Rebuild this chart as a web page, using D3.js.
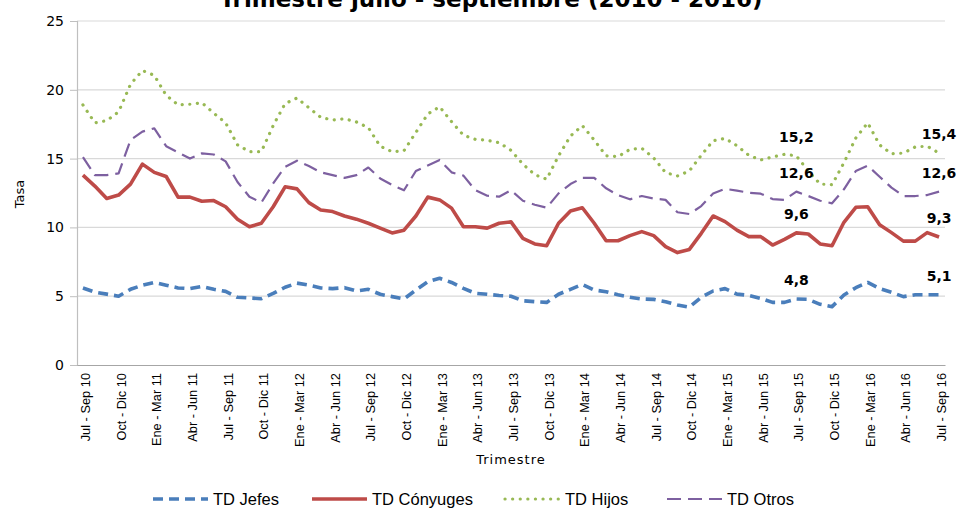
<!DOCTYPE html>
<html>
<head>
<meta charset="utf-8">
<script src="https://cdn.jsdelivr.net/npm/d3@7"></script>
<style>
  body { margin: 0; background: #fff; }
  svg { display: block; }
</style>
</head>
<body>
<svg id="chart" width="959" height="508"></svg>
<script>
// rolling quarters, monthly, Jul-Sep 2010 .. Jul-Sep 2016
var meses = ["Ene","Feb","Mar","Abr","May","Jun","Jul","Ago","Sep","Oct","Nov","Dic"];
var categories = [];
for (var i = 0; i < 73; i++) {
  var m = (6 + i) % 12;
  var yEnd = 10 + Math.floor((6 + i + 2) / 12);
  categories.push(meses[m] + " - " + meses[(m + 2) % 12] + " " + yEnd);
}
var tickLabels = categories.filter(function(d, i){ return i % 3 === 0; });

var jefes = [5.6,5.3,5.15,5.0,5.5,5.8,6.0,5.8,5.6,5.55,5.7,5.5,5.35,4.92,4.87,4.82,5.2,5.65,5.95,5.8,
  5.6,5.55,5.62,5.38,5.5,5.14,4.97,4.8,5.45,6.05,6.3,6.0,5.57,5.21,5.14,5.05,5.0,4.67,4.6,4.55,
  5.14,5.5,5.85,5.45,5.33,5.1,4.92,4.8,4.77,4.6,4.36,4.2,4.92,5.38,5.55,5.15,5.06,4.84,4.55,4.55,
  4.8,4.77,4.41,4.24,5.09,5.62,6.0,5.55,5.28,4.97,5.1,5.1,5.1];
var conyuges = [13.8,13.0,12.1,12.35,13.15,14.6,14.0,13.7,12.2,12.2,11.9,11.95,11.5,10.6,10.05,10.3,11.5,12.95,12.8,11.8,
  11.26,11.15,10.83,10.6,10.3,9.95,9.6,9.8,10.83,12.2,12.0,11.4,10.05,10.05,9.95,10.3,10.4,9.2,8.8,8.67,
  10.3,11.2,11.43,10.3,9.03,9.03,9.4,9.69,9.4,8.6,8.17,8.4,9.57,10.83,10.42,9.8,9.33,9.33,8.72,9.13,
  9.6,9.52,8.8,8.67,10.37,11.46,11.5,10.2,9.62,9.0,9.0,9.62,9.3];
var hijos = [18.9,17.6,17.76,18.4,20.4,21.4,21.05,19.6,18.9,18.95,19.06,18.3,17.6,16.0,15.5,15.5,17.4,19.0,19.4,18.7,
  18.0,17.8,17.9,17.66,17.25,15.9,15.5,15.57,16.9,18.24,18.77,17.68,16.7,16.4,16.33,16.16,15.6,14.6,13.83,13.5,
  15.2,16.64,17.4,16.35,15.2,15.14,15.67,15.75,15.05,13.98,13.74,14.1,15.24,16.3,16.47,15.94,15.24,14.9,15.12,15.31,
  15.2,14.1,13.15,13.1,14.7,16.5,17.6,16.0,15.35,15.4,15.85,15.9,15.4];
var otros = [15.1,13.8,13.8,13.93,16.35,16.96,17.2,15.9,15.45,15.0,15.38,15.3,14.8,13.3,12.23,11.8,13.2,14.4,14.85,14.46,
  14.0,13.8,13.6,13.8,14.35,13.56,13.08,12.7,14.1,14.5,14.9,14.0,13.76,12.7,12.3,12.23,12.7,11.94,11.65,11.43,
  12.47,13.15,13.6,13.6,12.84,12.35,12.04,12.28,12.1,12.0,11.1,10.97,11.55,12.47,12.8,12.67,12.52,12.45,12.06,12.0,
  12.6,12.28,11.94,11.75,12.77,14.1,14.48,13.68,12.89,12.28,12.28,12.35,12.6];

var seriesNames = ["TD Jefes", "TD Cónyuges", "TD Hijos", "TD Otros"];
var seriesValues = [jefes, conyuges, hijos, otros];
var labeledIdx = [60, 72];   // Jul-Sep 15, Jul-Sep 16
var yTicks = [0, 5, 10, 15, 20, 25];

var styles = [
  {color: "#4a7ebb", width: 3.6, dash: "10,6", cap: "butt"},
  {color: "#be4b48", width: 3.6, dash: null, cap: "butt"},
  {color: "#98b954", width: 3.2, dash: "0.1,7.5", cap: "round"},
  {color: "#7d60a0", width: 2.2, dash: "14,7", cap: "butt"}
];

var svg = d3.select("#chart");
var plotL = 77, plotR = 945, plotT = 21, plotB = 365;

var x = d3.scalePoint().domain(categories).range([plotL, plotR]).padding(0.5);
var y = d3.scaleLinear().domain([0, 25]).range([plotB, plotT]);

// title (partly cut off at top)
svg.append("text")
  .attr("x", 491).attr("y", 7)
  .attr("text-anchor", "middle")
  .style("font-family", "DejaVu Sans, sans-serif")
  .style("font-weight", "bold")
  .style("font-size", "23px")
  .text("Trimestre julio - septiembre (2010 - 2016)");

// grid
svg.append("g").selectAll("line")
  .data(yTicks.slice(1))
  .enter().append("line")
  .attr("x1", plotL).attr("x2", plotR)
  .attr("y1", function(d){ return y(d); }).attr("y2", function(d){ return y(d); })
  .style("stroke", "#d9d9d9").style("stroke-width", 1.2);

// y axis
var yAxis = svg.append("g")
  .attr("transform", "translate(" + plotL + ",0)")
  .call(d3.axisLeft(y).tickValues(yTicks).tickSize(7).tickPadding(6));
yAxis.select(".domain").style("stroke", "#bfbfbf").style("stroke-width", 1.2);
yAxis.selectAll(".tick line").style("stroke", "#bfbfbf");
yAxis.selectAll("text")
  .style("font-family", "DejaVu Sans, sans-serif")
  .style("font-size", "14px")
  .style("fill", "#000");

// x axis
var xAxis = svg.append("g")
  .attr("transform", "translate(0," + plotB + ")")
  .call(d3.axisBottom(x).tickValues(tickLabels).tickSize(0).tickPadding(0));
xAxis.select(".domain").style("stroke", "#a6a6a6").style("stroke-width", 1.2);
xAxis.selectAll("text")
  .attr("transform", "rotate(-90)")
  .attr("x", -8).attr("y", 2).attr("dy", "0.35em")
  .style("text-anchor", "end")
  .style("font-family", "Liberation Sans Narrow, Arial Narrow, sans-serif")
  .style("font-size", "12.8px")
  .style("fill", "#000");

// axis titles
svg.append("text")
  .attr("transform", "translate(24,194) rotate(-90)")
  .attr("text-anchor", "middle")
  .style("font-family", "DejaVu Sans, sans-serif")
  .style("font-size", "13px")
  .text("Tasa");
svg.append("text")
  .attr("x", 511).attr("y", 464)
  .attr("text-anchor", "middle")
  .style("font-family", "DejaVu Sans, sans-serif")
  .style("font-size", "13px")
  .style("letter-spacing", "1px")
  .text("Trimestre");

// lines
var line = d3.line()
  .x(function(d, i){ return x(categories[i]); })
  .y(function(d){ return y(d); });

seriesValues.forEach(function(vals, s){
  var st = styles[s];
  var p = svg.append("path")
    .datum(vals)
    .attr("d", line)
    .style("fill", "none")
    .style("stroke", st.color)
    .style("stroke-width", st.width)
    .style("stroke-linecap", st.cap)
    .style("stroke-linejoin", "round");
  if (st.dash) p.style("stroke-dasharray", st.dash);
});

// data labels
seriesValues.forEach(function(vals){
  labeledIdx.forEach(function(i){
    svg.append("text")
      .attr("x", x(categories[i]))
      .attr("y", y(vals[i]) - 14)
      .attr("text-anchor", "middle")
      .style("font-family", "DejaVu Sans, sans-serif")
      .style("font-weight", "bold")
      .style("font-size", "14px")
      .text(d3.format(".1f")(vals[i]).replace(".", ","));
  });
});

// legend
var legendX = [153, 312, 505, 667];
var legend = svg.append("g");
seriesNames.forEach(function(name, s){
  var st = styles[s];
  var g = legend.append("g").attr("transform", "translate(" + legendX[s] + ",499)");
  var ln = g.append("line")
    .attr("x1", 0).attr("x2", 55).attr("y1", 0).attr("y2", 0)
    .style("stroke", st.color)
    .style("stroke-width", st.width)
    .style("stroke-linecap", st.cap);
  if (st.dash) ln.style("stroke-dasharray", st.dash);
  g.append("text")
    .attr("x", 60).attr("y", 0).attr("dy", "0.36em")
    .style("font-family", "Liberation Sans, Arial, sans-serif")
    .style("font-size", "16.5px")
    .text(name);
});
</script>
</body>
</html>
